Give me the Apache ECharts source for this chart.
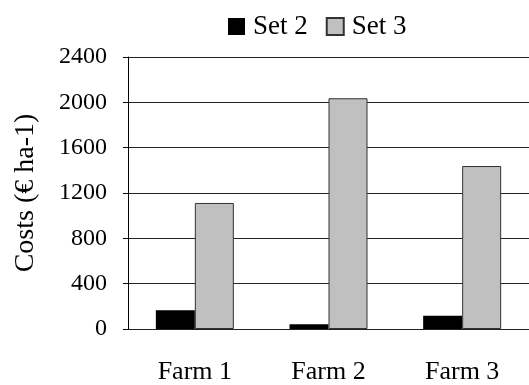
<!DOCTYPE html>
<html>
<head>
<meta charset="utf-8">
<script src="https://cdn.jsdelivr.net/npm/echarts@6/dist/echarts.min.js"></script>
<style>
  html, body { margin: 0; padding: 0; background: #fff; }
  #chart { width: 529px; height: 385px; }
</style>
</head>
<body>
<div id="chart"></div>
<script>
const farms = ['Farm 1', 'Farm 2', 'Farm 3'];
const set2 = [165, 42, 117];
const set3 = [1112, 2036, 1438];
const yTicks = { min: 0, max: 2400, interval: 400 };

const font = 'Liberation Serif, Times New Roman, serif';
const chart = echarts.init(document.getElementById('chart'));

chart.setOption({
  animation: false,
  textStyle: { fontFamily: font, color: '#000' },
  legend: {
    left: 223,
    top: 8,
    icon: 'rect',
    itemWidth: 17,
    itemHeight: 17,
    itemGap: 18,
    textStyle: { fontFamily: font, fontSize: 27, color: '#000', padding: [0, 0, 0, 3] },
    data: ['Set 2', 'Set 3']
  },
  grid: { left: 128, top: 57, width: 403, height: 272 },
  xAxis: {
    type: 'category',
    data: farms,
    axisLine: { lineStyle: { color: '#222', width: 1 } },
    axisTick: { length: 7, lineStyle: { color: '#444' } },
    axisLabel: { fontFamily: font, fontSize: 26, color: '#000', margin: 30 }
  },
  yAxis: {
    type: 'value',
    min: yTicks.min,
    max: yTicks.max,
    interval: yTicks.interval,
    name: 'Costs (€ ha-1)',
    nameLocation: 'middle',
    nameGap: 88,
    nameTextStyle: { fontFamily: font, fontSize: 28, color: '#000' },
    axisLine: { show: true, lineStyle: { color: '#000', width: 1 } },
    axisTick: { show: true, length: 5, lineStyle: { color: '#000' } },
    axisLabel: { fontFamily: font, fontSize: 24, color: '#000', margin: 21, formatter: v => String(v) },
    splitLine: { lineStyle: { color: '#222', width: 1 } }
  },
  series: [
    {
      name: 'Set 2',
      type: 'bar',
      data: set2,
      barWidth: 39,
      barGap: '0%',
      itemStyle: { color: '#000' }
    },
    {
      name: 'Set 3',
      type: 'bar',
      data: set3,
      barWidth: 39,
      itemStyle: { color: '#c0c0c0', borderColor: '#333', borderWidth: 1 }
    }
  ]
});
</script>
</body>
</html>
